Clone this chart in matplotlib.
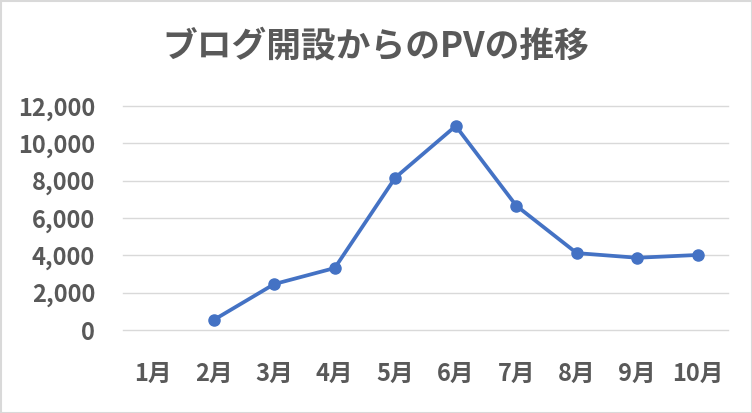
import matplotlib
matplotlib.use("Agg")
import matplotlib.pyplot as plt
import numpy as np
from matplotlib.patches import Rectangle
from matplotlib.ticker import FuncFormatter

plt.rcParams['font.family'] = ['Noto Sans CJK JP', 'DejaVu Sans']

months = ["1月", "2月", "3月", "4月", "5月", "6月", "7月", "8月", "9月", "10月"]
pv = [np.nan, 540, 2460, 3320, 8160, 10930, 6660, 4120, 3870, 4020]
yticks = [0, 2000, 4000, 6000, 8000, 10000, 12000]
title = "ブログ開設からのPVの推移"

fig = plt.figure(figsize=(7.52, 4.13), dpi=100)
ax = fig.add_axes([123/752, 83/413, 605/752, 224/413])

x = np.arange(len(months))
ax.plot(x, pv, color="#4472C4", linewidth=2.7, marker="o", markersize=8,
        markerfacecolor="#4472C4", markeredgecolor="#4472C4", zorder=3)

ax.set_xlim(-0.5, len(months) - 0.5)
ax.set_ylim(0, 12000)
ax.set_yticks(yticks)
ax.yaxis.set_major_formatter(FuncFormatter(lambda v, p: f"{int(v):,}"))
ax.set_xticks(x)
ax.set_xticklabels(months)
ax.grid(axis="y", color="#d9d9d9", linewidth=1)
for gl in ax.get_ygridlines():
    gl.set_clip_on(False)
ax.set_axisbelow(True)
for s in ax.spines.values():
    s.set_visible(False)
ax.tick_params(axis="both", length=0, colors="#595959", labelsize=17)
ax.tick_params(axis="x", pad=23)
ax.tick_params(axis="y", pad=20)
for lbl in ax.get_xticklabels() + ax.get_yticklabels():
    lbl.set_fontweight("bold")
    lbl.set_color("#595959")

fig.text(376/752, 1 - 46/413, title, ha="center", va="center",
         fontsize=25, fontweight="bold", color="#595959")

fig.patches.append(Rectangle((0.5/752, 0.5/413), 1 - 1/752, 1 - 1/413,
                             transform=fig.transFigure, fill=False,
                             edgecolor="#d9d9d9", linewidth=1.5))

fig.savefig("out.png", dpi=100)
